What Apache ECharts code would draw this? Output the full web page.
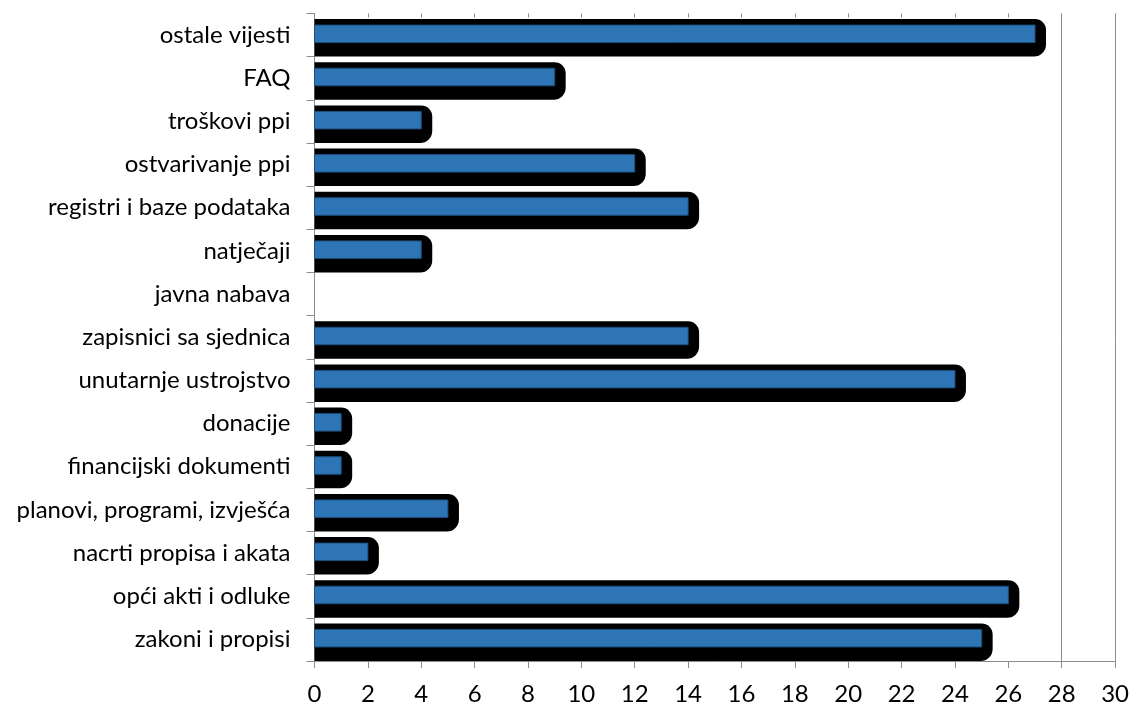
<!DOCTYPE html>
<html>
<head>
<meta charset="utf-8">
<script src="https://cdn.jsdelivr.net/npm/echarts@6/dist/echarts.min.js"></script>
<style>
html,body{margin:0;padding:0;background:#fff;}
#chart{width:1132px;height:706px;}
</style>
</head>
<body>
<div id="chart"></div>
<script>
// Categories listed bottom-to-top (as the category axis draws them)
const categories = [
  'zakoni i propisi',
  'opći akti i odluke',
  'nacrti propisa i akata',
  'planovi, programi, izvješća',
  'financijski dokumenti',
  'donacije',
  'unutarnje ustrojstvo',
  'zapisnici sa sjednica',
  'javna nabava',
  'natječaji',
  'registri i baze podataka',
  'ostvarivanje ppi',
  'troškovi ppi',
  'FAQ',
  'ostale vijesti'
];
const values = [25, 26, 2, 5, 1, 1, 24, 14, 0, 4, 14, 12, 4, 9, 27];
const gridLineValues = [28, 30];
const axisMin = 0, axisMax = 30, axisStep = 2;

const chart = echarts.init(document.getElementById('chart'), null, {renderer: 'canvas'});
const FONT = 'Lato, "DejaVu Sans", sans-serif';

const seriesData = values.map((v, i) => [v, i]);

const option = {
  animation: false,
  backgroundColor: '#ffffff',
  grid: {left: 314.5, right: 15.5, top: 13.5, bottom: 44, containLabel: false},
  xAxis: [
    {
      type: 'value', position: 'bottom', min: axisMin, max: axisMax, interval: axisStep,
      axisLine: {show: true, lineStyle: {color: '#8c8c8c', width: 1}},
      axisTick: {show: true, length: 7, lineStyle: {color: '#8c8c8c'}},
      axisLabel: {color: '#000', fontFamily: FONT, fontSize: 24, margin: 21},
      splitLine: {show: false}
    },
    {
      type: 'value', position: 'top', min: axisMin, max: axisMax, interval: axisStep,
      axisLine: {show: false},
      axisTick: {show: true, inside: true, length: 4, lineStyle: {color: '#8c8c8c'}},
      axisLabel: {show: false},
      splitLine: {show: false}
    }
  ],
  yAxis: {
    type: 'category', data: categories, boundaryGap: true,
    axisLine: {show: true, lineStyle: {color: '#8c8c8c', width: 1}},
    axisTick: {show: true, length: 8, alignWithLabel: false, lineStyle: {color: '#8c8c8c'}},
    axisLabel: {color: '#000', fontFamily: FONT, fontSize: 24, margin: 24}
  },
  series: [{
    type: 'custom',
    xAxisIndex: 0,
    encode: {x: 0, y: 1},
    data: seriesData,
    renderItem: function (params, api) {
      const v = api.value(0);
      const c = api.value(1);
      if (!v) return {type: 'group', children: []};
      const s = api.coord([0, c]);
      const e = api.coord([v, c]);
      const x0 = s[0], x1 = e[0], cy = s[1];
      return {
        type: 'group',
        children: [
          {
            type: 'rect',
            shape: {x: x0, y: cy - 16, width: (x1 - x0) + 11, height: 37.5, r: [0, 11, 12, 0]},
            style: {fill: '#000000'}
          },
          {
            type: 'rect',
            shape: {x: x0, y: cy - 10, width: x1 - x0, height: 17.5},
            style: {fill: '#2E75B6', stroke: '#1d4f7c', lineWidth: 1}
          }
        ]
      };
    },
    markLine: {
      silent: true,
      symbol: 'none',
      label: {show: false},
      lineStyle: {color: '#8c8c8c', width: 1, type: 'solid'},
      data: gridLineValues.map(v => ({xAxis: v}))
    },
    z: 2
  }]
};
chart.setOption(option);
</script>
</body>
</html>
